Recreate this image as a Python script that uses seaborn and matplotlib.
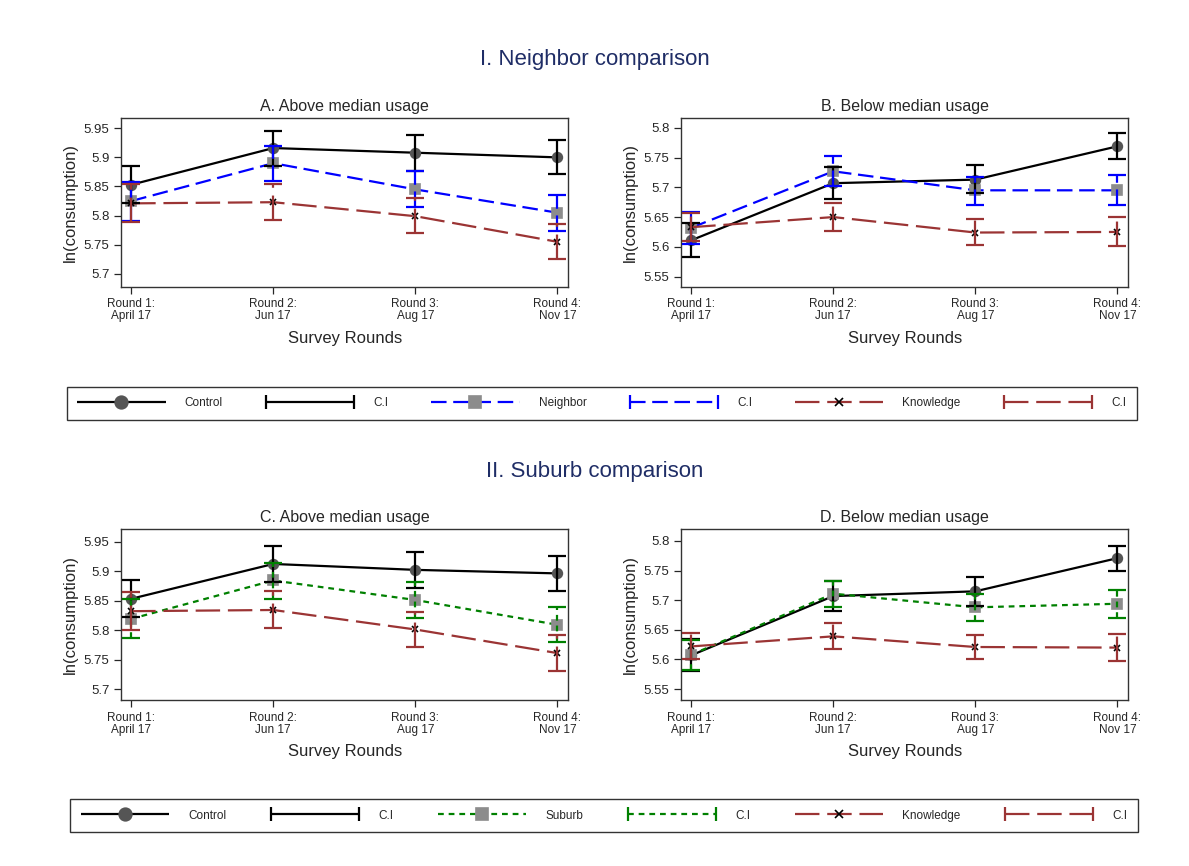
import numpy as np
import pandas as pd
import seaborn as sns
import matplotlib.pyplot as plt
from matplotlib.lines import Line2D
from matplotlib.legend_handler import HandlerLine2D
from matplotlib.ticker import FormatStrFormatter

# x axis
rounds = ['Round 1:\nApril 17', 'Round 2:\nJun 17', 'Round 3:\nAug 17', 'Round 4:\nNov 17']

# A. neighbor comparison, above median usage
a_control = [5.853, 5.916, 5.908, 5.900]
a_control_lo = [5.822, 5.886, 5.877, 5.871]
a_control_hi = [5.885, 5.945, 5.938, 5.929]
a_neighbor = [5.825, 5.890, 5.845, 5.805]
a_neighbor_lo = [5.790, 5.860, 5.815, 5.774]
a_neighbor_hi = [5.858, 5.919, 5.877, 5.835]
a_know = [5.821, 5.823, 5.799, 5.755]
a_know_lo = [5.789, 5.792, 5.770, 5.726]
a_know_hi = [5.855, 5.855, 5.830, 5.786]

# B. neighbor comparison, below median usage
b_control = [5.611, 5.707, 5.713, 5.769]
b_control_lo = [5.583, 5.680, 5.690, 5.748]
b_control_hi = [5.640, 5.735, 5.738, 5.791]
b_neighbor = [5.632, 5.727, 5.695, 5.695]
b_neighbor_lo = [5.605, 5.702, 5.670, 5.670]
b_neighbor_hi = [5.658, 5.752, 5.718, 5.720]
b_know = [5.633, 5.650, 5.624, 5.625]
b_know_lo = [5.610, 5.627, 5.603, 5.601]
b_know_hi = [5.657, 5.673, 5.646, 5.650]

# C. suburb comparison, above median usage
c_control = [5.853, 5.912, 5.902, 5.896]
c_control_lo = [5.822, 5.882, 5.871, 5.866]
c_control_hi = [5.885, 5.942, 5.932, 5.925]
c_suburb = [5.819, 5.884, 5.851, 5.809]
c_suburb_lo = [5.786, 5.853, 5.821, 5.779]
c_suburb_hi = [5.852, 5.914, 5.881, 5.839]
c_know = [5.832, 5.834, 5.801, 5.761]
c_know_lo = [5.800, 5.803, 5.772, 5.731]
c_know_hi = [5.865, 5.866, 5.831, 5.791]

# D. suburb comparison, below median usage
d_control = [5.607, 5.707, 5.715, 5.771]
d_control_lo = [5.580, 5.681, 5.691, 5.749]
d_control_hi = [5.634, 5.733, 5.739, 5.792]
d_suburb = [5.608, 5.711, 5.688, 5.694]
d_suburb_lo = [5.583, 5.688, 5.665, 5.670]
d_suburb_hi = [5.633, 5.733, 5.711, 5.718]
d_know = [5.622, 5.639, 5.621, 5.620]
d_know_lo = [5.600, 5.617, 5.600, 5.597]
d_know_hi = [5.645, 5.661, 5.642, 5.643]

sns.set_style('white')
plt.rcParams['font.family'] = ['Liberation Sans', 'DejaVu Sans']

navy = '#1f2d66'
styles = {
    'Control': dict(color='black', dashes=(1, 0), marker='o', mfc='#555555', mec='#555555', ms=7),
    'Neighbor': dict(color='#0000ff', dashes=(7, 3), marker='s', mfc='#8c8c8c', mec='#8c8c8c', ms=6.5),
    'Suburb': dict(color='#008000', dashes=(2.6, 2.2), marker='s', mfc='#8c8c8c', mec='#8c8c8c', ms=6.5),
    'Knowledge': dict(color='#9b3434', dashes=(11, 3.5), marker='x', mfc='black', mec='black', ms=4.5),
}


def make_df(series):
    rows = []
    for name, (m, lo, hi) in series.items():
        for i, r in enumerate(rounds):
            rows.append({'group': name, 'pos': i, 'mean': m[i], 'lo': lo[i], 'hi': hi[i]})
    return pd.DataFrame(rows)


def panel(ax, df, title, ylim, yticks):
    for name in df['group'].unique():
        d = df[df['group'] == name]
        st = styles[name]
        sns.lineplot(data=d, x='pos', y='mean', ax=ax, color=st['color'], lw=1.6,
                     dashes=st['dashes'], marker=st['marker'], markerfacecolor=st['mfc'],
                     markeredgecolor=st['mec'], markeredgewidth=1.2, markersize=st['ms'],
                     legend=False, zorder=3)
        eb = ax.errorbar(d['pos'], d['mean'], yerr=[d['mean'] - d['lo'], d['hi'] - d['mean']],
                         fmt='none', ecolor=st['color'], elinewidth=1.6, capsize=6.5, capthick=1.6,
                         zorder=4)
        if name != 'Control':
            eb[2][0].set_linestyle((0, st['dashes']))
    ax.set_xlim(-0.07, 3.077)
    ax.set_ylim(*ylim)
    ax.set_yticks(yticks)
    ax.yaxis.set_major_formatter(FormatStrFormatter('%g'))
    ax.set_xticks(range(4))
    ax.set_xticklabels(rounds, fontsize=8.5, linespacing=1.0)
    ax.tick_params(axis='y', labelsize=9.5, length=5, width=0.9, direction='out', left=True)
    ax.tick_params(axis='x', length=5, width=0.9, direction='out', bottom=True)
    ax.set_title(title, fontsize=11.5, pad=5)
    ax.set_ylabel('ln(consumption)', fontsize=12)
    ax.set_xlabel('Survey Rounds', fontsize=12, labelpad=6)
    for s in ax.spines.values():
        s.set_color('#333333')
        s.set_linewidth(1.0)


fig = plt.figure(figsize=(11.89, 8.66), dpi=100)

df_a = make_df({'Control': (a_control, a_control_lo, a_control_hi),
                'Neighbor': (a_neighbor, a_neighbor_lo, a_neighbor_hi),
                'Knowledge': (a_know, a_know_lo, a_know_hi)})
df_b = make_df({'Control': (b_control, b_control_lo, b_control_hi),
                'Neighbor': (b_neighbor, b_neighbor_lo, b_neighbor_hi),
                'Knowledge': (b_know, b_know_lo, b_know_hi)})
df_c = make_df({'Control': (c_control, c_control_lo, c_control_hi),
                'Suburb': (c_suburb, c_suburb_lo, c_suburb_hi),
                'Knowledge': (c_know, c_know_lo, c_know_hi)})
df_d = make_df({'Control': (d_control, d_control_lo, d_control_hi),
                'Suburb': (d_suburb, d_suburb_lo, d_suburb_hi),
                'Knowledge': (d_know, d_know_lo, d_know_hi)})

w, h = 0.376, 0.195
ax_a = fig.add_axes([0.102, 0.669, w, h])
ax_b = fig.add_axes([0.573, 0.669, w, h])
ax_c = fig.add_axes([0.102, 0.192, w, 0.197])
ax_d = fig.add_axes([0.573, 0.192, w, 0.197])

above_ticks = [5.7, 5.75, 5.8, 5.85, 5.9, 5.95]
below_ticks = [5.55, 5.6, 5.65, 5.7, 5.75, 5.8]
panel(ax_a, df_a, 'A. Above median usage', (5.678, 5.968), above_ticks)
panel(ax_b, df_b, 'B. Below median usage', (5.533, 5.817), below_ticks)
panel(ax_c, df_c, 'C. Above median usage', (5.682, 5.971), above_ticks)
panel(ax_d, df_d, 'D. Below median usage', (5.532, 5.82), below_ticks)

fig.text(0.5, 0.931, 'I. Neighbor comparison', ha='center', va='center', fontsize=16, color=navy)
fig.text(0.5, 0.456, 'II. Suburb comparison', ha='center', va='center', fontsize=16, color=navy)


def legend_row(treat, bbox):
    handles, labels, hmap = [], [], {}
    for name in ['Control', treat, 'Knowledge']:
        st = styles[name]
        ln = Line2D([], [], color=st['color'], lw=1.6, dashes=st['dashes'], marker=st['marker'],
                    markerfacecolor=st['mfc'], markeredgecolor=st['mec'], markeredgewidth=1.2,
                    markersize=st['ms'] * 1.3)
        ci = Line2D([], [], color=st['color'], lw=1.6, dashes=st['dashes'], marker='|',
                    markersize=10, markeredgewidth=1.6)
        hmap[ln] = HandlerLine2D(numpoints=1)
        hmap[ci] = HandlerLine2D(numpoints=2, marker_pad=0)
        handles += [ln, ci]
        labels += [name, 'C.I']
    leg = fig.legend(handles, labels, loc='lower left', bbox_to_anchor=bbox, mode='expand',
                     ncol=6, fontsize=8.5, handlelength=7.5, handletextpad=1.6,
                     frameon=True, fancybox=False, edgecolor='black', handler_map=hmap,
                     borderaxespad=0, borderpad=0.9)
    leg.get_frame().set_linewidth(1.0)
    return leg


legend_row('Neighbor', (0.056, 0.515, 0.9, 0.046))
legend_row('Suburb', (0.059, 0.039, 0.898, 0.045))

fig.savefig('out.png', dpi=100, facecolor='white')
